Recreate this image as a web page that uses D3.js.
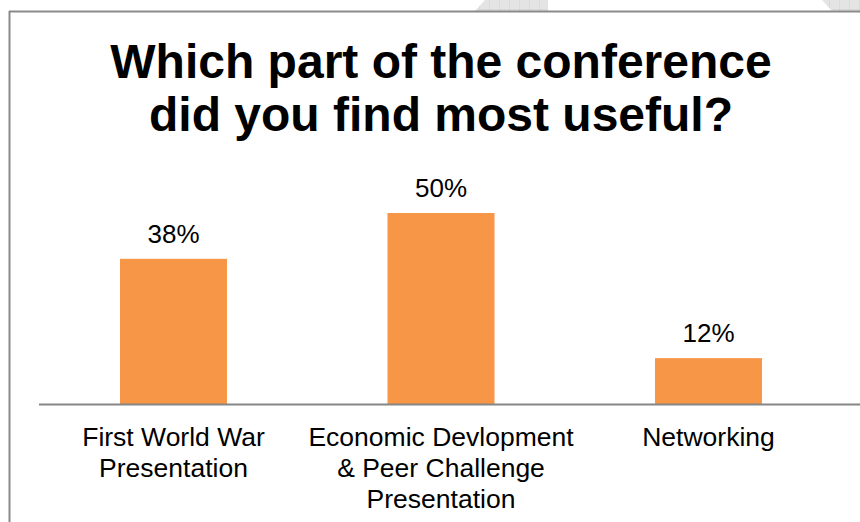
<!DOCTYPE html>
<html>
<head>
<meta charset="utf-8">
<script src="https://cdn.jsdelivr.net/npm/d3@7"></script>
<style>
  body { margin: 0; background: #fff; }
  svg { display: block; font-family: "Liberation Sans", Arial, sans-serif; }
</style>
</head>
<body>
<div id="chart"></div>
<script>
// chart data
var categories = ["First World War\nPresentation", "Economic Devlopment\n& Peer Challenge\nPresentation", "Networking"];
var values = [38, 50, 12];
var titleLines = ["Which part of the conference", "did you find most useful?"];

var svgWidth = 860;
var svgHeight = 522;

var svg = d3.select("#chart")
  .append("svg")
  .attr("width", svgWidth)
  .attr("height", svgHeight);

// hatched decoration above the frame
var defs = svg.append("defs");
var pat = defs.append("pattern")
  .attr("id", "grid")
  .attr("width", 10)
  .attr("height", 10)
  .attr("patternUnits", "userSpaceOnUse");
pat.append("rect").attr("width", 10).attr("height", 10).attr("fill", "#e4e4e4");
pat.append("path").attr("d", "M10 0 V10 M0 10 H10").attr("stroke", "#d0d0d0").attr("stroke-width", 1);

svg.append("polygon")
  .attr("points", "485,0 548,0 548,11 475,11")
  .attr("fill", "url(#grid)");
svg.append("polygon")
  .attr("points", "822,0 860,0 860,11 832,11")
  .attr("fill", "url(#grid)");

// frame lines
svg.append("line")
  .attr("x1", 9).attr("x2", 860)
  .attr("y1", 11.5).attr("y2", 11.5)
  .attr("stroke", "#8a8a8a").attr("stroke-width", 2);
svg.append("line")
  .attr("x1", 9.5).attr("x2", 9.5)
  .attr("y1", 11).attr("y2", 522)
  .attr("stroke", "#8a8a8a").attr("stroke-width", 2);

// title
svg.append("text")
  .attr("x", 441)
  .attr("y", 78)
  .attr("text-anchor", "middle")
  .attr("font-size", "48px")
  .attr("font-weight", "bold")
  .selectAll("tspan")
  .data(titleLines)
  .enter()
  .append("tspan")
  .attr("x", 441)
  .attr("dy", (d, i) => i === 0 ? 0 : 53)
  .text(d => d);

var baseline = 404;

var x = d3.scaleBand()
  .domain(categories)
  .range([39.75, 842.25])
  .paddingInner(0.6)
  .paddingOuter(0.3);

var y = d3.scaleLinear()
  .domain([0, 100])
  .range([baseline, baseline - 382]);

// bars
svg.selectAll(".bar")
  .data(values)
  .enter()
  .append("rect")
  .attr("class", "bar")
  .attr("x", (d, i) => x(categories[i]))
  .attr("y", d => y(d))
  .attr("width", x.bandwidth())
  .attr("height", d => y(0) - y(d))
  .attr("fill", "#f79646");

// value labels
svg.selectAll(".label")
  .data(values)
  .enter()
  .append("text")
  .attr("class", "label")
  .attr("x", (d, i) => x(categories[i]) + x.bandwidth() / 2)
  .attr("y", d => y(d) - 16)
  .attr("text-anchor", "middle")
  .attr("font-size", "26px")
  .attr("fill", "#000")
  .text(d => d + "%");

// x axis
var bottomAxis = d3.axisBottom(x).tickSize(0).tickFormat("");
var axisG = svg.append("g")
  .attr("transform", `translate(0, ${baseline})`)
  .call(bottomAxis);
axisG.select(".domain").remove();
axisG.append("line")
  .attr("x1", 39).attr("x2", 860)
  .attr("y1", 0.5).attr("y2", 0.5)
  .attr("stroke", "#868686").attr("stroke-width", 2);

// category labels, multi-line
svg.selectAll(".cat")
  .data(categories)
  .enter()
  .append("text")
  .attr("class", "cat")
  .attr("text-anchor", "middle")
  .attr("font-size", "26.5px")
  .attr("y", 446)
  .each(function(d) {
    var t = d3.select(this);
    var cx = x(d) + x.bandwidth() / 2;
    d.split("\n").forEach(function(line, i) {
      t.append("tspan")
        .attr("x", cx)
        .attr("dy", i === 0 ? 0 : 31)
        .text(line);
    });
  });
</script>
</body>
</html>
